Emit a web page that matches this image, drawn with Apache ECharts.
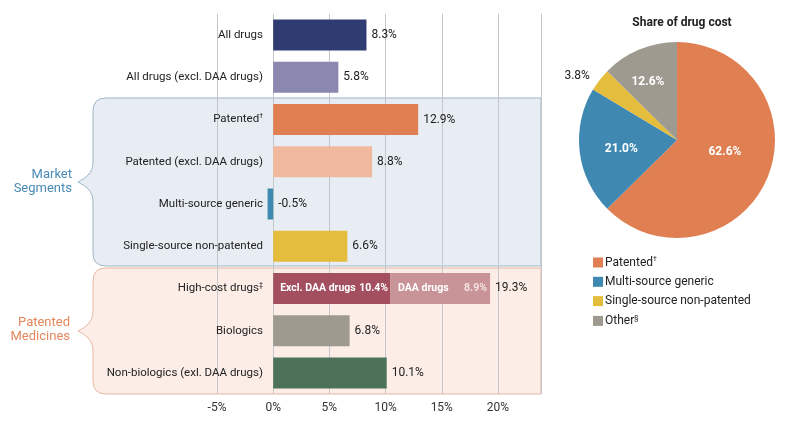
<!DOCTYPE html>
<html>
<head>
<meta charset="utf-8">
<script src="https://cdn.jsdelivr.net/npm/echarts@6/dist/echarts.min.js"></script>
<style>
html,body{margin:0;padding:0;background:#fff;}
#chart{width:796px;height:423px;}
</style>
</head>
<body>
<div id="chart"></div>
<script>
// ---- data ----
const categories = ['All drugs', 'All drugs (excl. DAA drugs)', 'Patented\u2020', 'Patented (excl. DAA drugs)',
  'Multi-source generic', 'Single-source non-patented', 'High-cost drugs\u2021', 'Biologics',
  'Non-biologics (exl. DAA drugs)'];
const growth = [8.3, 5.8, 12.9, 8.8, -0.5, 6.6, null, 6.8, 10.1];
const barColors = ['#2e3c72', '#8a88ae', '#e07f52', '#f0b99e', '#3f88b1', '#e5bd3c', null, '#9e9a8f', '#4c735a'];
const highCostIndex = 6;
const highCostExclDaa = 10.4;
const highCostDaa = 8.9;
const highCostTotal = 19.3;
const segmentNames = ['Excl. DAA drugs', 'DAA drugs'];
const xTickMin = -5, xTickStep = 5, xMax = 23.83;

const pieNames = ['Patented\u2020', 'Multi-source generic', 'Single-source non-patented', 'Other\u00a7'];
const pieShares = [62.6, 21.0, 3.8, 12.6];
const pieColors = ['#e07f52', '#3f88b1', '#e5bd3c', '#9e9a8f'];

const FONT = 'Roboto';

function only(idx, v) { return categories.map((c, i) => i === idx ? v : '-'); }
function supSplit(s) {
  const m = s.match(/^(.*?)([\u2020\u2021\u00a7])$/);
  return m ? '{t|' + m[1] + '}{s|' + m[2] + '}' : '{t|' + s + '}';
}
const supRich = {
  t: { fontFamily: FONT, fontSize: 11.5, color: '#222' },
  s: { fontFamily: FONT, fontSize: 7, color: '#222', verticalAlign: 'top', padding: [0, 0, 6, 0] }
};

// curly-brace box shape
const BraceBox = echarts.graphic.extendShape({
  shape: { x0: 0, x1: 0, y0: 0, y1: 0, r: 0 },
  buildPath: function (ctx, s) {
    const x0 = s.x0, x1 = s.x1, y0 = s.y0, y1 = s.y1, r = s.r, ym = (y0 + y1) / 2;
    ctx.moveTo(x1, y0);
    ctx.lineTo(x0 + r, y0);
    ctx.quadraticCurveTo(x0, y0, x0, y0 + r);
    ctx.lineTo(x0, ym - 20);
    ctx.bezierCurveTo(x0, ym - 8, x0 - 8, ym - 4, x0 - 15, ym);
    ctx.bezierCurveTo(x0 - 8, ym + 4, x0, ym + 8, x0, ym + 20);
    ctx.lineTo(x0, y1 - r);
    ctx.quadraticCurveTo(x0, y1, x0 + r, y1);
    ctx.lineTo(x1, y1);
    ctx.closePath();
  }
});
echarts.graphic.registerShape('braceBox', BraceBox);

function pieLabel(i) {
  if (i === 0) return { offset: [0, -8] };
  if (i === 1) return { offset: [-4, 3] };
  if (i === 2) return { position: 'outside', color: '#222', fontWeight: 'normal', fontSize: 12 };
  return { offset: [-9, -10] };
}

const chart = echarts.init(document.getElementById('chart'), null, { renderer: 'canvas' });
const option = {
  animation: false,
  textStyle: { fontFamily: FONT },
  title: {
    text: 'Share of drug cost', left: 677, top: 12, textAlign: 'center',
    textStyle: { fontFamily: FONT, fontSize: 12, fontWeight: 'bold', color: '#222' }
  },
  legend: {
    orient: 'vertical', left: 593, top: 256, padding: 0, itemWidth: 10, itemHeight: 10, itemGap: 7.3, icon: 'rect',
    data: pieNames,
    formatter: n => supSplit(n),
    textStyle: { fontFamily: FONT, fontSize: 12, color: '#222', padding: [0, 0, 0, -3], rich: {
      t: { fontFamily: FONT, fontSize: 12, color: '#222' },
      s: { fontFamily: FONT, fontSize: 7, color: '#222', verticalAlign: 'top', padding: [0, 0, 6, 0] } } }
  },
  graphic: [
    { type: 'braceBox', z: -10, shape: { x0: 93, x1: 541, y0: 98, y1: 266, r: 13 },
      style: { fill: '#e7edf2', stroke: '#9ab5c8', lineWidth: 1 } },
    { type: 'braceBox', z: -10, shape: { x0: 93, x1: 541, y0: 268, y1: 394, r: 13 },
      style: { fill: '#fcede6', stroke: '#e8b5a3', lineWidth: 1 } },
    { type: 'text', z: 5, x: 72, y: 182,
      style: { text: 'Market\nSegments', align: 'right', verticalAlign: 'middle', fill: '#4a8ab5',
        font: '13px ' + FONT, lineHeight: 14 } },
    { type: 'text', z: 5, x: 70, y: 330,
      style: { text: 'Patented\nMedicines', align: 'right', verticalAlign: 'middle', fill: '#e2875d',
        font: '13px ' + FONT, lineHeight: 14 } }
  ],
  grid: { left: 217, right: 255, top: 14, bottom: 29, containLabel: false },
  xAxis: {
    type: 'value', min: xTickMin, max: xMax, interval: xTickStep,
    axisLine: { show: false }, axisTick: { show: false },
    splitLine: { show: true, lineStyle: { color: '#c3c7cb', width: 1 } },
    axisLabel: { showMaxLabel: false, formatter: v => v + '%', fontFamily: FONT, fontSize: 12, color: '#333', margin: 8 }
  },
  yAxis: {
    type: 'category', data: categories, inverse: true, offset: -56,
    axisLine: { show: false },
    axisTick: { show: false },
    axisLabel: { margin: 10, formatter: v => supSplit(v), rich: supRich }
  },
  series: [
    {
      type: 'bar', name: 'growth', barWidth: 31, barGap: '-100%',
      data: growth.map((v, i) => v === null ? '-' : { value: v, itemStyle: { color: barColors[i] } }),
      label: { show: true, position: 'right', distance: 5, formatter: p => p.value.toFixed(1) + '%',
        fontFamily: FONT, fontSize: 12, color: '#222' }
    },
    {
      type: 'bar', name: segmentNames[0], stack: 'hc', barWidth: 31, barGap: '-100%',
      data: only(highCostIndex, highCostExclDaa), itemStyle: { color: '#a34f5f' },
      label: { show: true, position: 'insideLeft', distance: 7,
        formatter: p => '{n|' + segmentNames[0] + '}{v|' + p.value.toFixed(1) + '%}',
        rich: { n: { width: 79, fontFamily: FONT, fontSize: 10.5, fontWeight: 'bold', color: '#fff' },
                v: { fontFamily: FONT, fontSize: 10.5, fontWeight: 'bold', color: '#fff' } } }
    },
    {
      type: 'bar', name: segmentNames[1], stack: 'hc', barWidth: 31, barGap: '-100%',
      data: only(highCostIndex, highCostDaa), itemStyle: { color: '#c89497' },
      label: { show: true, position: 'insideLeft', distance: 8,
        formatter: p => '{n|' + segmentNames[1] + '}{v|' + p.value.toFixed(1) + '%}',
        rich: { n: { width: 66, fontFamily: FONT, fontSize: 10.5, fontWeight: 'bold', color: '#fff' },
                v: { fontFamily: FONT, fontSize: 10.5, fontWeight: 'bold', color: '#f5e1e2' } } }
    },
    {
      type: 'bar', name: 'total', barWidth: 31, barGap: '-100%', silent: true,
      data: only(highCostIndex, highCostTotal), itemStyle: { color: 'rgba(0,0,0,0)' },
      label: { show: true, position: 'right', distance: 5, formatter: p => p.value.toFixed(1) + '%',
        fontFamily: FONT, fontSize: 12, color: '#222' }
    },
    {
      type: 'pie', center: [677, 140], radius: 98, startAngle: 90, clockwise: true,
      data: pieNames.map((n, i) => ({ name: n, value: pieShares[i], itemStyle: { color: pieColors[i] },
        label: pieLabel(i) })),
      label: { show: true, position: 'inside', formatter: p => p.value.toFixed(1) + '%',
        fontFamily: FONT, fontSize: 12, fontWeight: 'bold', color: '#fff' },
      labelLine: { show: false, length: 6, length2: 0 },
      emphasis: { disabled: true }
    }
  ]
};
chart.setOption(option);
</script>
</body>
</html>
